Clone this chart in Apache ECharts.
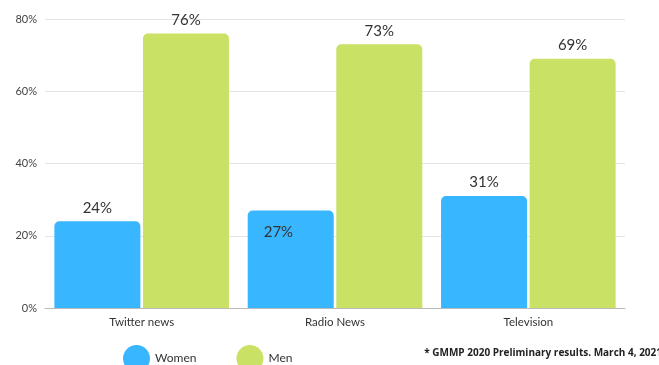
<!DOCTYPE html>
<html>
<head>
<meta charset="utf-8">
<script src="https://cdn.jsdelivr.net/npm/echarts@6/dist/echarts.min.js"></script>
<style>
  html, body { margin: 0; padding: 0; background: #fff; }
  #main { width: 659px; height: 365px; }
</style>
</head>
<body>
<div id="main"></div>
<script>
var categories = ['Twitter news', 'Radio News', 'Television'];
var women = [24, 27, 31];
var men = [76, 73, 69];
var yTicks = [0, 20, 40, 60, 80];

var font = 'Lato, "Open Sans", sans-serif';

function barLabel(inside) {
    return {
        show: true,
        position: inside ? 'insideTopLeft' : 'top',
        offset: inside ? [10, 8] : [0, 0],
        distance: 6,
        formatter: '{c}%',
        color: '#333',
        fontSize: 15,
        fontFamily: font
    };
}

var chart = echarts.init(document.getElementById('main'));
chart.setOption({
    animation: false,
    grid: { left: 45, right: 34, top: 19, bottom: 57 },
    legend: {
        data: ['Women', 'Men'],
        left: 118, top: 340,
        icon: 'circle',
        itemWidth: 27, itemHeight: 27,
        itemGap: 40,
        textStyle: { fontSize: 12, color: '#333', fontFamily: font }
    },
    graphic: [{
        type: 'text', right: -3, top: 348,
        style: {
            text: '* GMMP 2020 Preliminary results. March 4, 2021',
            fontSize: 10, fontWeight: 'bold', fill: '#222', fontFamily: '"Open Sans", sans-serif'
        }
    }],
    xAxis: {
        type: 'category',
        data: categories,
        axisTick: { show: false },
        axisLine: { lineStyle: { color: '#bbb' } },
        axisLabel: { color: '#333', fontSize: 11.5, margin: 8, fontFamily: font }
    },
    yAxis: {
        type: 'value',
        min: yTicks[0], max: yTicks[yTicks.length - 1], interval: 20,
        axisLabel: { formatter: '{value}%', color: '#444', fontSize: 11, margin: 8, fontFamily: font },
        splitLine: { lineStyle: { color: '#e4e4e4' } }
    },
    series: [
        {
            name: 'Women', type: 'bar',
            barWidth: 86, barGap: '3%',
            itemStyle: { color: '#38b6ff', borderRadius: [5, 5, 0, 0] },
            data: women.map(function (v, i) {
                return { value: v, label: barLabel(i === 1) };
            })
        },
        {
            name: 'Men', type: 'bar',
            barWidth: 86,
            itemStyle: { color: '#c9e265', borderRadius: [5, 5, 0, 0] },
            label: barLabel(false),
            data: men
        }
    ]
});
</script>
</body>
</html>
